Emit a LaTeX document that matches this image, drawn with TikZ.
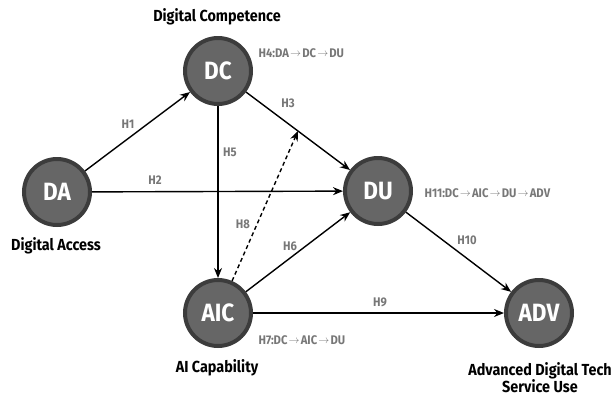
\documentclass[tikz,border=0pt]{standalone}
\usepackage{fontspec}
\setmainfont{Fira Sans}[FakeStretch=0.9]
\usetikzlibrary{arrows.meta}
\definecolor{nodefill}{HTML}{666666}
\definecolor{nodeedge}{HTML}{3C3C3C}
\definecolor{labelgray}{HTML}{777777}
% thin arrow used inside the mediation chains
\newcommand{\ra}{\hspace{1.2pt}\raisebox{0.8pt}{\fontsize{11}{11}\selectfont$\rightarrow$}\hspace{1.2pt}}
\tikzset{
  construct/.style={circle, fill=nodefill, draw=nodeedge, line width=4pt,
    minimum size=66pt, inner sep=0pt, text=white, font=\bfseries\fontsize{25}{25}\selectfont},
  caption/.style={font=\bfseries\fontsize{16}{18}\selectfont, text=black, align=center},
  hyp/.style={font=\bfseries\fontsize{12.5}{14}\selectfont, text=labelgray},
  path/.style={font=\bfseries\fontsize{12.5}{14}\selectfont, text=labelgray, anchor=west},
  link/.style={line width=1.4pt, -{Stealth[length=10pt,width=8pt]}},
}
\begin{document}
\begin{tikzpicture}[x=1pt,y=-1pt]
\useasboundingbox (0,0) rectangle (616,397);

% constructs
\node[construct] (DC)  at (218,71)  {DC};
\node[construct] (DA)  at (57,192)  {DA};
\node[construct] (DU)  at (378,191) {DU};
\node[construct] (AIC) at (218,313) {AIC};
\node[construct] (ADV) at (539,313) {ADV};

% construct captions
\node[caption] (capDC)  at (217,17)  {Digital Competence};
\node[caption] (capDA)  at (56,246)  {Digital Access};
\node[caption] (capAIC) at (217,368) {AI Capability};
\node[caption] (capADV) at (540,378) {Advanced Digital Tech\\[-1pt]Service Use};

% direct paths
\draw[link] (DA) -- (DC);
\draw[link] (DA) -- (DU);
\draw[link] (DC) -- (DU) coordinate[pos=0.5] (mod);
\draw[link] (DC) -- (AIC);
\draw[link] (AIC) -- (DU);
\draw[link] (AIC) -- (ADV);
\draw[link] (DU) -- (ADV);
% moderating path onto DC -> DU
\draw[link, dashed, dash pattern=on 4pt off 3pt] (AIC) -- (mod);

% hypothesis labels
\node[hyp] (h1)  at (128,124) {H1};
\node[hyp] (h2)  at (155,180) {H2};
\node[hyp] (h3)  at (288,103) {H3};
\node[hyp] (h5)  at (230,152) {H5};
\node[hyp] (h8)  at (243,224) {H8};
\node[hyp] (h6)  at (290,246) {H6};
\node[hyp] (h9)  at (380,302) {H9};
\node[hyp] (h10) at (467,240) {H10};

% mediation chains
\node[path] (h4)  at (255,53)  {H4:DA\ra DC\ra DU};
\node[path] (h11) at (421,193) {H11:DC\ra AIC\ra DU\ra ADV};
\node[path] (h7)  at (255,340) {H7:DC\ra AIC\ra DU};
\end{tikzpicture}
\end{document}
